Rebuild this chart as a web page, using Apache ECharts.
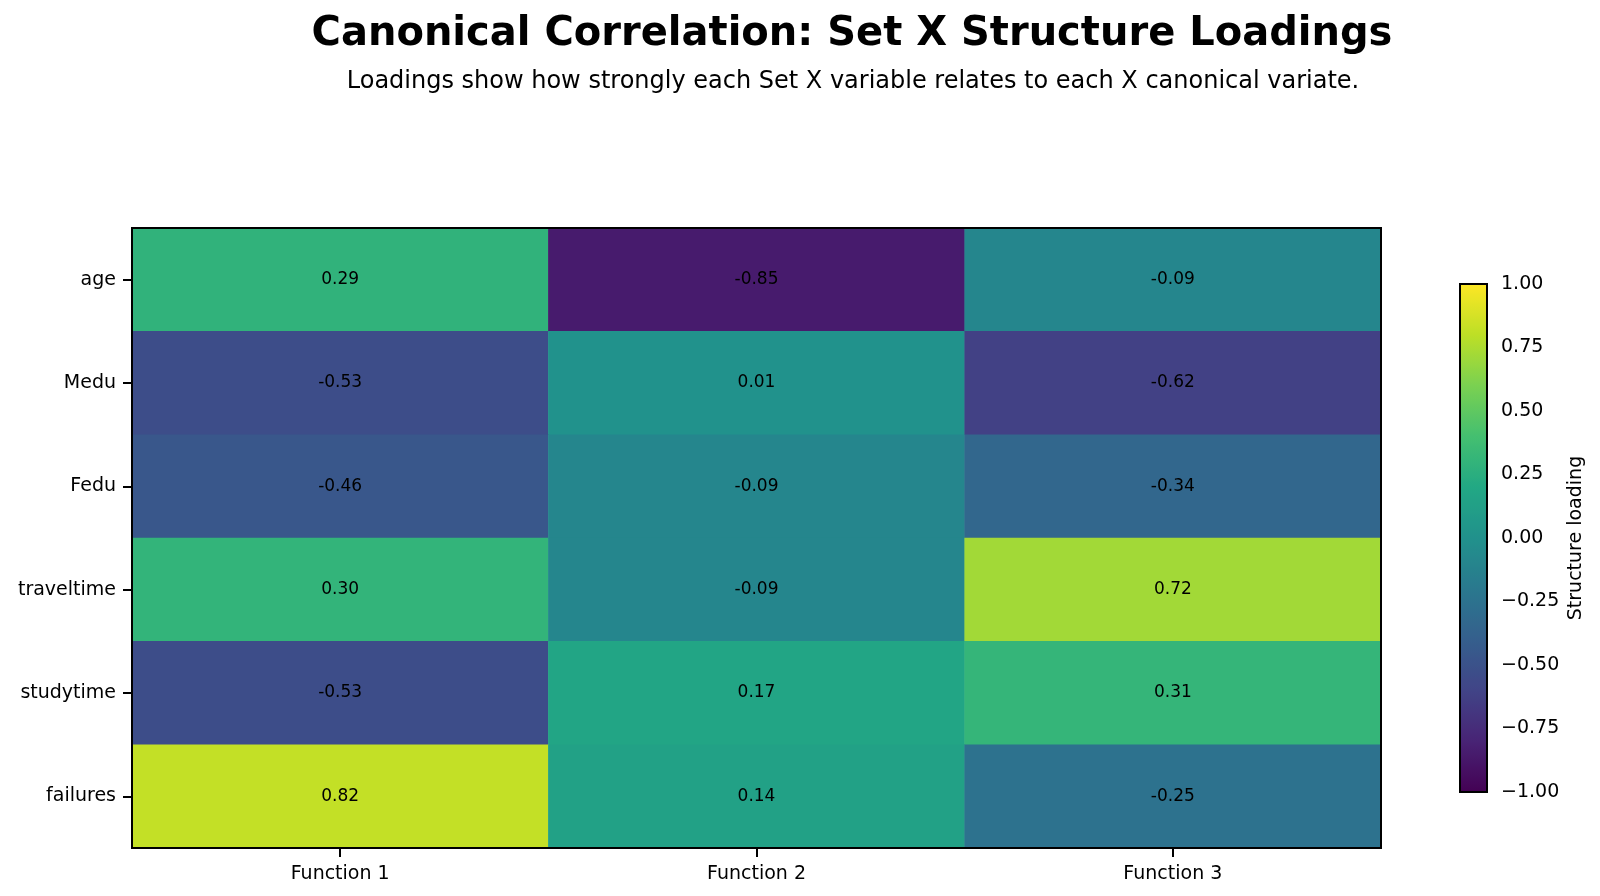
<!DOCTYPE html>
<html>
<head>
    <meta charset="utf-8">
    <title>Set X Structure Loadings</title>
    <script src="https://cdn.jsdelivr.net/npm/echarts@6/dist/echarts.min.js"></script>
    <style>
        html, body { margin: 0; padding: 0; background: #fff; }
        #chart { width: 1600px; height: 896px; }
    </style>
</head>
<body>
<div id="chart"></div>
<script>

// variables (rows, top to bottom) and canonical functions (columns)
var variables = ['age', 'Medu', 'Fedu', 'traveltime', 'studytime', 'failures'];
var functions = ['Function 1', 'Function 2', 'Function 3'];

// structure loadings, one array per variable
var age        = [0.29, -0.85, -0.09];
var Medu       = [-0.53, 0.01, -0.62];
var Fedu       = [-0.46, -0.09, -0.34];
var traveltime = [0.30, -0.09, 0.72];
var studytime  = [-0.53, 0.17, 0.31];
var failures   = [0.82, 0.14, -0.25];
var loadings = [age, Medu, Fedu, traveltime, studytime, failures];

var viridis = ['#440154', '#482475', '#414487', '#355f8d', '#2a788e', '#21918c',
               '#22a884', '#44bf70', '#7ad151', '#bddf26', '#fde725'];

var cells = [];
for (var i = 0; i < variables.length; i++) {
    for (var j = 0; j < functions.length; j++) {
        cells.push([j, i, loadings[i][j]]);
    }
}

function fmt(v) {
    return v.toFixed(2);
}
function fmtMinus(v) {
    return v.toFixed(2).replace('-', '\u2212');
}

var font = 'DejaVu Sans';
var myChart = echarts.init(document.getElementById('chart'));
var option = {
    backgroundColor: '#fff',
    animation: false,
    textStyle: { fontFamily: font },
    title: [
        {
            text: 'Canonical Correlation: Set X Structure Loadings',
            left: 847, top: 10, textAlign: 'center',
            textStyle: { fontFamily: font, fontSize: 40, fontWeight: 'bold', color: '#000' }
        },
        {
            text: 'Loadings show how strongly each Set X variable relates to each X canonical variate.',
            left: 848, top: 65, textAlign: 'center',
            textStyle: { fontFamily: font, fontSize: 24, fontWeight: 'normal', color: '#000' }
        }
    ],
    grid: [
        { left: 132, right: 219, top: 228, bottom: 48, show: true, borderColor: '#000', borderWidth: 2, z: 10 },
        { left: 1460, width: 27, top: 284, height: 508, show: true, borderColor: '#000', borderWidth: 2, z: 10 }
    ],
    xAxis: [
        {
            type: 'category', gridIndex: 0, data: functions,
            axisLine: { show: false },
            axisTick: { show: true, alignWithLabel: true, length: 9, lineStyle: { color: '#000', width: 2 } },
            axisLabel: { color: '#000', fontSize: 19, margin: 17 },
            splitArea: { show: false }, splitLine: { show: false }
        },
        {
            type: 'value', gridIndex: 1, min: 0, max: 1, show: false
        }
    ],
    yAxis: [
        {
            type: 'category', gridIndex: 0, data: variables, inverse: true,
            axisLine: { show: false },
            axisTick: { show: true, alignWithLabel: true, length: 9, lineStyle: { color: '#000', width: 2 } },
            axisLabel: { color: '#000', fontSize: 19, margin: 16 },
            splitArea: { show: false }, splitLine: { show: false }
        },
        {
            type: 'value', gridIndex: 1, min: -1, max: 1, interval: 0.25, position: 'right',
            axisLine: { show: false },
            axisTick: { show: true, length: 8, lineStyle: { color: '#000', width: 2 } },
            axisLabel: { color: '#000', fontSize: 19, margin: 14, formatter: fmtMinus },
            splitLine: { show: false },
            name: 'Structure loading', nameLocation: 'middle', nameRotate: 90, nameGap: 80,
            nameTextStyle: { color: '#000', fontSize: 19, fontFamily: font }
        }
    ],
    visualMap: {
        type: 'continuous',
        min: -1, max: 1,
        seriesIndex: 0,
        calculable: false,
        hoverLink: false,
        show: true,
        orient: 'vertical',
        left: 1460, top: 284,
        itemWidth: 27, itemHeight: 508,
        padding: 0,
        text: null,
        showLabel: false,
        inRange: { color: viridis }
    },
    series: [
        {
            type: 'heatmap',
            xAxisIndex: 0, yAxisIndex: 0,
            data: cells,
            label: {
                show: true, color: '#000', fontSize: 17, fontFamily: font,
                formatter: function (p) { return fmt(p.value[2]); }
            },
            itemStyle: { borderWidth: 0 },
            emphasis: { disabled: true }
        },
        {
            type: 'scatter', xAxisIndex: 1, yAxisIndex: 1, data: []
        }
    ]
};
myChart.setOption(option);

</script>
</body>
</html>
